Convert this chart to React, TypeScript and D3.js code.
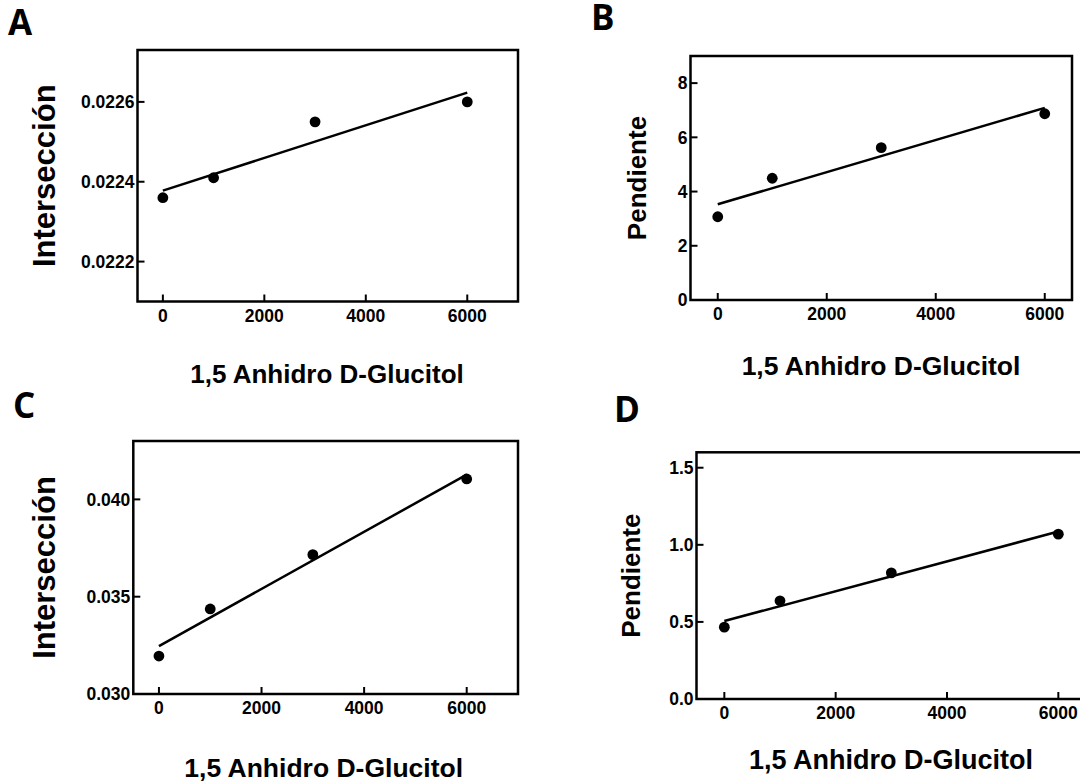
import React from 'react';
import * as d3 from 'd3';

// ---- data ----
const xValues = [0, 1000, 3000, 6000];
const xTicks = [0, 2000, 4000, 6000];

const interseccionA = [0.02236, 0.02241, 0.02255, 0.0226];
const pendienteB = [3.07, 4.49, 5.62, 6.87];
const interseccionC = [0.03195, 0.03437, 0.03716, 0.04105];
const pendienteD = [0.466, 0.637, 0.818, 1.069];

const yTicksA = [0.0222, 0.0224, 0.0226];
const yTicksB = [0, 2, 4, 6, 8];
const yTicksC = [0.03, 0.035, 0.04];
const yTicksD = [0, 0.5, 1.0, 1.5];

const panelLetters = ['A', 'B', 'C', 'D'];
const yTitles = ['Intersección', 'Pendiente', 'Intersección', 'Pendiente'];
const xTitle = '1,5 Anhidro D-Glucitol';

// ---- layout ----
const panels = [
  {
    letter: panelLetters[0], values: interseccionA, yTicks: yTicksA, yFormat: '.4f', yTitle: yTitles[0],
    xDomain: [-500, 7000], yDomain: [0.0221, 0.02273],
    left: 137.5, right: 518, top: 50, bottom: 301.5,
    letterX: 8, letterY: 35, yTitleX: 54.5, yTitleSize: 31, xTitleX: 327, xTitleY: 383, xTitleSize: 26,
  },
  {
    letter: panelLetters[1], values: pendienteB, yTicks: yTicksB, yFormat: 'd', yTitle: yTitles[1],
    xDomain: [-500, 6500], yDomain: [0, 9],
    left: 690.5, right: 1072, top: 56, bottom: 300,
    letterX: 591, letterY: 29.5, yTitleX: 645.5, yTitleSize: 26, xTitleX: 881, xTitleY: 375, xTitleSize: 26.5,
  },
  {
    letter: panelLetters[2], values: interseccionC, yTicks: yTicksC, yFormat: '.3f', yTitle: yTitles[2],
    xDomain: [-500, 7000], yDomain: [0.03, 0.043],
    left: 133.3, right: 518, top: 441, bottom: 694,
    letterX: 13, letterY: 418, yTitleX: 54.5, yTitleSize: 31, xTitleX: 323.7, xTitleY: 777, xTitleSize: 26.5,
  },
  {
    letter: panelLetters[3], values: pendienteD, yTicks: yTicksD, yFormat: '.1f', yTitle: yTitles[3],
    xDomain: [-500, 7000], yDomain: [0, 1.6],
    left: 696.5, right: 1114, top: 452.3, bottom: 699,
    letterX: 614, letterY: 421.5, yTitleX: 640, yTitleSize: 26, xTitleX: 891, xTitleY: 769, xTitleSize: 27,
  },
];

const AXIS_FONT = '"Liberation Sans", Arial, Helvetica, sans-serif';
const LETTER_FONT = '"Open Sans", "Noto Sans", sans-serif';

function linearFit(xs: number[], ys: number[]) {
  const mx = d3.mean(xs) as number;
  const my = d3.mean(ys) as number;
  let sxy = 0, sxx = 0;
  xs.forEach((x, i) => {
    sxy += (x - mx) * (ys[i] - my);
    sxx += (x - mx) * (x - mx);
  });
  const slope = sxy / sxx;
  return { slope, intercept: my - slope * mx };
}

function Panel({ p }: { p: any }) {
  const x = d3.scaleLinear().domain(p.xDomain).range([p.left, p.right]);
  const y = d3.scaleLinear().domain(p.yDomain).range([p.bottom, p.top]);
  const fmt = d3.format(p.yFormat);
  const { slope, intercept } = linearFit(xValues, p.values);
  const xExt = d3.extent(xValues) as [number, number];
  const fitPts: [number, number][] = xExt.map((xv) => [xv, intercept + slope * xv]);
  const lineGen = d3.line<[number, number]>().x((d) => x(d[0])).y((d) => y(d[1]));
  const tickLen = 7;
  const sw = 2.5;

  return (
    <g>
      <text x={p.letterX} y={p.letterY} fontFamily={LETTER_FONT} fontWeight={700} fontSize={35} fill="#000">
        {p.letter}
      </text>
      {/* regression line */}
      <path d={lineGen(fitPts) || ''} fill="none" stroke="#000" strokeWidth={2.5} />
      {/* points */}
      {xValues.map((xv, i) => (
        <circle key={i} cx={x(xv)} cy={y(p.values[i])} r={5.4} fill="#000" />
      ))}
      {/* frame */}
      <rect x={p.left} y={p.top} width={p.right - p.left} height={p.bottom - p.top} fill="none" stroke="#000" strokeWidth={sw} />
      {/* x ticks */}
      {xTicks.map((t) => (
        <g key={'x' + t}>
          <line x1={x(t)} x2={x(t)} y1={p.bottom} y2={p.bottom - tickLen} stroke="#000" strokeWidth={2} />
          <text x={x(t)} y={p.bottom + 20} textAnchor="middle" fontFamily={AXIS_FONT} fontWeight={700} fontSize={17.5} fill="#000">
            {t}
          </text>
        </g>
      ))}
      {/* y ticks */}
      {p.yTicks.map((t: number) => (
        <g key={'y' + t}>
          <line x1={p.left} x2={p.left + tickLen} y1={y(t)} y2={y(t)} stroke="#000" strokeWidth={2} />
          <text x={p.left - 3} y={y(t)} dy="0.36em" textAnchor="end" fontFamily={AXIS_FONT} fontWeight={700} fontSize={17.5} fill="#000">
            {fmt(t)}
          </text>
        </g>
      ))}
      {/* y title */}
      <text
        transform={`translate(${p.yTitleX},${(p.top + p.bottom) / 2}) rotate(-90)`}
        textAnchor="middle" fontFamily={AXIS_FONT} fontWeight={700} fontSize={p.yTitleSize} fill="#000"
      >
        {p.yTitle}
      </text>
      {/* x title */}
      <text x={p.xTitleX} y={p.xTitleY} textAnchor="middle" fontFamily={AXIS_FONT} fontWeight={700} fontSize={p.xTitleSize} fill="#000">
        {xTitle}
      </text>
    </g>
  );
}

export default function App() {
  return (
    <svg
      width={1080}
      height={782}
      viewBox="0 0 1080 782"
      style={{ position: 'absolute', left: 0, top: 0, background: '#fff', overflow: 'hidden' }}
    >
      <rect x={0} y={0} width={1080} height={782} fill="#fff" />
      {panels.map((p) => (
        <Panel key={p.letter} p={p} />
      ))}
    </svg>
  );
}
